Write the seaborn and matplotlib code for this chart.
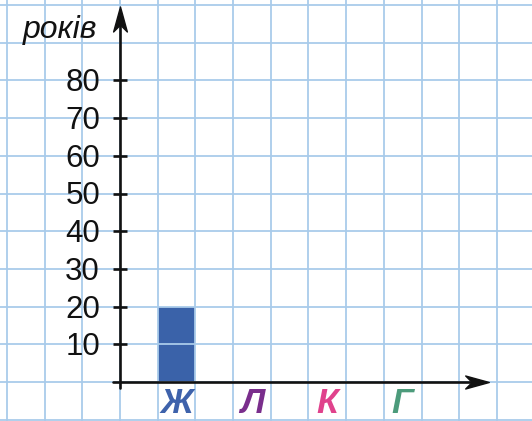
import pandas as pd
import seaborn as sns
import matplotlib.pyplot as plt
from matplotlib.path import Path
from matplotlib.transforms import Affine2D

# Data
categories = ["Ж", "Л", "К", "Г"]
values = [20, 0, 0, 0]
label_colors = ["#3e62ab", "#7a2e8c", "#e0428c", "#4c9b7b"]
yticks = [10, 20, 30, 40, 50, 60, 70, 80]
y_label = "років"

sns.set_theme(style="white")
plt.rcParams["font.family"] = ["Liberation Sans", "DejaVu Sans"]

# one grid cell = 1 unit on x, 10 units on y
xpos = [1.5 + 2 * i for i in range(len(categories))]
df = pd.DataFrame({"pos": xpos, "value": values, "cat": categories})

fig = plt.figure(figsize=(5.32, 4.21), dpi=100)
ax = fig.add_axes([0, 0, 1, 1])

sns.barplot(data=df, x="pos", y="value", native_scale=True, width=0.5,
            color="#3a62a9", saturation=1, linewidth=0, zorder=1, ax=ax)

# squared paper
grid_col = "#a9cbea"
for k in range(-3, 12):
    ax.axvline(k, color=grid_col, lw=1.3, zorder=2)
for v in range(-10, 101, 10):
    ax.axhline(v, color=grid_col, lw=1.3, zorder=2)

# axes with arrows
ink = "#111111"
ax.plot([-0.19, 9.5], [0, 0], color=ink, lw=1.9, zorder=4)
ax.plot([0, 0], [-1.6, 97], color=ink, lw=1.9, zorder=4)
arrow = Path([(1, 0), (-1, 0.55), (-0.45, 0), (-1, -0.55), (1, 0)],
             [Path.MOVETO, Path.LINETO, Path.LINETO, Path.LINETO, Path.CLOSEPOLY])
ax.plot([9.47], [0], marker=arrow, markersize=17, color=ink, zorder=5)
up = arrow.transformed(Affine2D().rotate_deg(90))
ax.plot([0], [96.3], marker=up, markersize=18, color=ink, zorder=5)

# y ticks
ax.hlines(yticks, -0.19, 0.19, color=ink, lw=1.9, zorder=4)
for v in yticks:
    ax.text(-0.53, v - 2.9, str(v), ha="right", va="baseline",
            fontsize=22.5, color=ink, zorder=6)

ax.text(-1.58, 91.2, y_label, ha="center", va="baseline", fontsize=23,
        style="italic", color=ink, zorder=6)

# category letters, kept inside the bottom edge
for x, c, col in zip(xpos, categories, label_colors):
    ax.text(x, -10.2, c, ha="center", va="bottom", fontsize=25.5,
            fontweight="bold", style="italic", color=col, zorder=6)

ax.set_xlim(-3.183, 10.93)
ax.set_ylim(-10.34, 101.33)
ax.set_axis_off()

fig.savefig("out.png", dpi=100)
